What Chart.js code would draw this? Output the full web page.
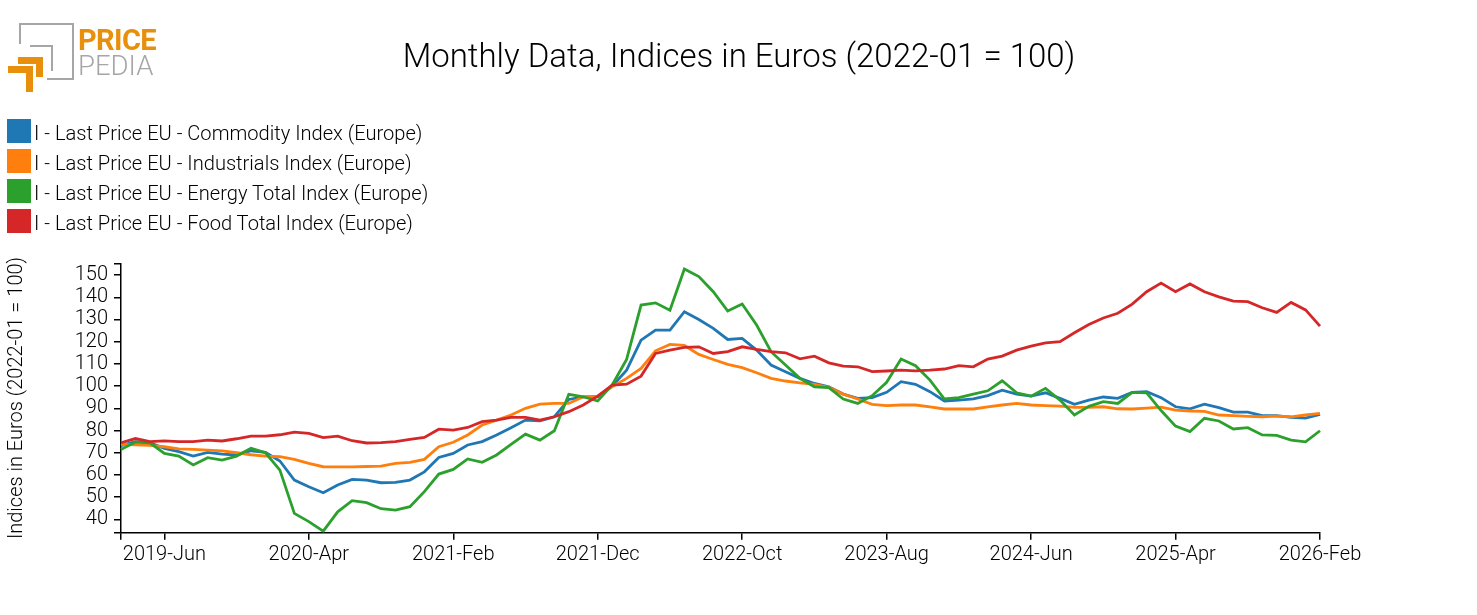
<!DOCTYPE html>
<html>
<head>
<meta charset="utf-8">
<script src="https://cdn.jsdelivr.net/npm/chart.js@4.4.1/dist/chart.umd.min.js"></script>
<style>
  html, body { margin: 0; padding: 0; background: #fff; }
  #wrap { position: relative; width: 1477px; height: 615px; font-family: Roboto, sans-serif; font-weight: 300; color: #000; overflow: hidden; }
  #wrap canvas { position: absolute; left: 0; top: 0; }
  .abs { position: absolute; }
  .gray { background: #a6a6a6; }
  .orange { background: #e8900c; }
  #title { left: 0; top: 36px; width: 1478px; text-align: center; font-size: 33px; white-space: nowrap; }
  .leg-box { position: absolute; left: 7px; width: 24px; height: 24px; }
  .leg-text { position: absolute; left: 34px; font-size: 20.1px; white-space: nowrap; }
</style>
</head>
<body>
<div id="wrap">
  <canvas id="chart" width="1477" height="615"></canvas>

  <!-- logo -->
  <div class="abs gray" style="left:19px;top:23px;width:55px;height:2px"></div>
  <div class="abs gray" style="left:72px;top:23px;width:2px;height:57px"></div>
  <div class="abs gray" style="left:47px;top:78px;width:27px;height:2px"></div>
  <div class="abs gray" style="left:19px;top:23px;width:2px;height:21px"></div>
  <div class="abs gray" style="left:30px;top:45px;width:23px;height:2px"></div>
  <div class="abs gray" style="left:51px;top:45px;width:2px;height:26px"></div>
  <div class="abs orange" style="left:18px;top:57px;width:25px;height:7px"></div>
  <div class="abs orange" style="left:36px;top:57px;width:7px;height:20px"></div>
  <div class="abs orange" style="left:8px;top:66px;width:25px;height:7px"></div>
  <div class="abs orange" style="left:26px;top:66px;width:7px;height:26px"></div>
  <div class="abs" style="left:78px;top:23px;font-size:29px;font-weight:700;color:#e8900c;letter-spacing:-0.6px">PRICE</div>
  <div class="abs" style="left:78px;top:49px;font-size:27.5px;font-weight:300;color:#a6a6a6">PEDIA</div>

  <div id="title" class="abs">Monthly Data, Indices in Euros (2022-01 = 100)</div>
  <div id="legend"></div>
</div>
<script>
const months = [
  '2019-Mar','2019-Apr','2019-May','2019-Jun','2019-Jul','2019-Aug','2019-Sep','2019-Oct','2019-Nov','2019-Dec',
  '2020-Jan','2020-Feb','2020-Mar','2020-Apr','2020-May','2020-Jun','2020-Jul','2020-Aug','2020-Sep','2020-Oct','2020-Nov','2020-Dec',
  '2021-Jan','2021-Feb','2021-Mar','2021-Apr','2021-May','2021-Jun','2021-Jul','2021-Aug','2021-Sep','2021-Oct','2021-Nov','2021-Dec',
  '2022-Jan','2022-Feb','2022-Mar','2022-Apr','2022-May','2022-Jun','2022-Jul','2022-Aug','2022-Sep','2022-Oct','2022-Nov','2022-Dec',
  '2023-Jan','2023-Feb','2023-Mar','2023-Apr','2023-May','2023-Jun','2023-Jul','2023-Aug','2023-Sep','2023-Oct','2023-Nov','2023-Dec',
  '2024-Jan','2024-Feb','2024-Mar','2024-Apr','2024-May','2024-Jun','2024-Jul','2024-Aug','2024-Sep','2024-Oct','2024-Nov','2024-Dec',
  '2025-Jan','2025-Feb','2025-Mar','2025-Apr','2025-May','2025-Jun','2025-Jul','2025-Aug','2025-Sep','2025-Oct','2025-Nov','2025-Dec',
  '2026-Jan','2026-Feb'
];

const commodity = [
  73.2, 75, 74.5, 72, 70.5, 68.5, 70.2, 69.4, 69, 70.9,
  70.2, 66.3, 57.7, 54.7, 52, 55.5, 58, 57.7, 56.5, 56.7, 57.7, 61.4,
  67.9, 69.7, 73.5, 75, 78, 81.3, 84.7, 84.4, 86.2, 94, 95.2, 95.2,
  100, 107.2, 120.7, 125.2, 125.2, 133.5, 130, 126, 121, 121.5, 116.2, 109.5,
  106.5, 103.5, 101.2, 99.7, 96.4, 94.5, 94.8, 97.2, 102, 100.8, 97.5, 93.3,
  93.7, 94.3, 95.7, 98.2, 96.4, 95.5, 97, 94.5, 91.8, 93.7, 95.1, 94.5,
  97.2, 97.5, 94.8, 90.7, 89.8, 91.9, 90.3, 88.3, 88.3, 86.7, 86.7, 85.9,
  85.6, 87.3
];
const industrials = [
  73.8, 73.5, 73.3, 72.7, 71.7, 71.5, 71.2, 70.8, 70, 69.1,
  68.5, 68.2, 67, 65.2, 63.7, 63.6, 63.6, 63.8, 64, 65.2, 65.7, 67,
  72.7, 74.7, 78, 82.5, 84.7, 87, 90, 91.9, 92.2, 92.2, 95.2, 95.5,
  99.7, 103.5, 108, 115.9, 118.8, 118.3, 114.3, 112, 109.8, 108.3, 106, 103.5,
  102.3, 101.5, 100.8, 99.4, 96.4, 94.2, 91.8, 91.2, 91.5, 91.5, 90.7, 89.7,
  89.7, 89.7, 90.7, 91.5, 92.2, 91.5, 91.2, 91, 90.4, 90.4, 90.7, 89.8,
  89.7, 90.1, 90.5, 89.2, 88.8, 88.6, 87, 86.7, 86.4, 86.2, 86.5, 86.2,
  87, 87.7
];
const energy = [
  71.5, 74.8, 74.5, 69.7, 68.5, 64.5, 67.8, 66.7, 68.5, 72,
  70, 62.2, 42.7, 39, 34.7, 43.4, 48.4, 47.5, 44.8, 44.2, 45.7, 52.5,
  60.4, 62.5, 67.2, 65.7, 69, 73.8, 78.4, 75.7, 79.9, 96.3, 95.2, 93.3,
  100.5, 112, 136.5, 137.5, 134.2, 152.7, 149.3, 142.5, 133.8, 137, 127.5, 115.5,
  109.5, 103.5, 99.7, 99.3, 94.2, 92.2, 95.7, 101.7, 112.2, 109.2, 102.7, 94.2,
  94.8, 96.4, 97.9, 102.4, 97, 95.5, 99, 93.7, 87, 90.9, 93, 92.2,
  97.2, 97, 89, 82, 79.5, 85.5, 84.3, 80.7, 81.3, 78, 77.8, 75.7,
  74.9, 79.9
];
const food = [
  74.5, 76.4, 75, 75.3, 75, 75, 75.7, 75.3, 76.3, 77.5,
  77.5, 78.1, 79.3, 78.7, 76.8, 77.5, 75.4, 74.4, 74.6, 75, 76, 76.9,
  80.6, 80.2, 81.4, 84, 84.7, 85.9, 85.9, 84.7, 86.2, 88.5, 91.5, 95.5,
  100.5, 100.9, 104.5, 114.7, 116.2, 117.4, 117.7, 114.7, 115.5, 117.7, 116.5, 115.5,
  115, 112.3, 113.5, 110.5, 109, 108.7, 106.5, 106.8, 107.2, 106.9, 107.2, 107.7,
  109.2, 108.7, 112.2, 113.5, 116.2, 118, 119.5, 120, 124, 127.7, 130.7, 132.8,
  136.9, 142.5, 146.4, 142.5, 146, 142.5, 140.2, 138.3, 138, 135.3, 133.2, 137.7,
  134.3, 127
];

const seriesNames = [
  'I - Last Price EU - Commodity Index (Europe)',
  'I - Last Price EU - Industrials Index (Europe)',
  'I - Last Price EU - Energy Total Index (Europe)',
  'I - Last Price EU - Food Total Index (Europe)'
];
const seriesColors = ['#1f77b4', '#ff7f0e', '#2ca02c', '#d62728'];
const xTickLabels = ['2019-Jun','2020-Apr','2021-Feb','2021-Dec','2022-Oct','2023-Aug','2024-Jun','2025-Apr','2026-Feb'];
const yTicks = [40, 50, 60, 70, 80, 90, 100, 110, 120, 130, 140, 150];
const yMin = 34, yMax = 155.3;

// legend (one item per row, like the original)
const legend = document.getElementById('legend');
seriesNames.forEach((name, i) => {
  const box = document.createElement('div');
  box.className = 'leg-box';
  box.style.top = (119 + i * 30) + 'px';
  box.style.background = seriesColors[i];
  const txt = document.createElement('div');
  txt.className = 'leg-text';
  txt.style.top = (121 + i * 30) + 'px';
  txt.textContent = name;
  legend.appendChild(box);
  legend.appendChild(txt);
});

Chart.defaults.font.family = 'Roboto';
Chart.defaults.font.weight = 300;
Chart.defaults.color = '#000';

const values = [commodity, industrials, energy, food];
const xTickIdx = [0].concat(xTickLabels.map(l => months.indexOf(l)));

const ctx = document.getElementById('chart').getContext('2d');
new Chart(ctx, {
  type: 'line',
  data: {
    labels: months,
    datasets: values.map((v, i) => ({
      label: seriesNames[i],
      data: v,
      borderColor: seriesColors[i],
      backgroundColor: seriesColors[i],
      borderWidth: 2.8,
      pointRadius: 0,
      tension: 0,
      fill: false,
      order: 3 - i
    }))
  },
  options: {
    responsive: false,
    animation: false,
    devicePixelRatio: 1,
    layout: { padding: { top: 263.3, right: 157, bottom: 0, left: 0 } },
    plugins: {
      legend: { display: false },
      tooltip: { enabled: false },
      title: { display: false }
    },
    scales: {
      x: {
        type: 'category',
        offset: false,
        grid: { drawOnChartArea: false, drawTicks: true, tickLength: 7, color: '#000', lineWidth: 1.5 },
        border: { display: true, color: '#000', width: 1.5 },
        ticks: {
          autoSkip: false,
          maxRotation: 0,
          padding: 3,
          font: { size: 20, weight: 300 },
          callback: function (v) { return v === 0 ? '' : this.getLabelForValue(v); }
        },
        afterBuildTicks: s => { s.ticks = xTickIdx.map(v => ({ value: v })); },
        afterFit: s => { s.height = 615 - 532.7; }
      },
      y: {
        type: 'linear',
        min: yMin,
        max: yMax,
        grid: { drawOnChartArea: false, drawTicks: true, tickLength: 7, color: '#000', lineWidth: 1.5 },
        border: { display: true, color: '#000', width: 1.5 },
        ticks: {
          autoSkip: false,
          padding: 6,
          font: { size: 20, weight: 300 },
          callback: v => yTicks.includes(v) ? String(v) : ''
        },
        afterBuildTicks: s => { s.ticks = [yMin].concat(yTicks, [yMax]).map(v => ({ value: v })); },
        afterFit: s => { s.width = 121; },
        title: {
          display: true,
          text: 'Indices in Euros (2022-01 = 100)',
          font: { size: 20, weight: 300 },
          padding: { top: 5, bottom: 0 }
        }
      }
    }
  }
});
</script>
</body>
</html>
